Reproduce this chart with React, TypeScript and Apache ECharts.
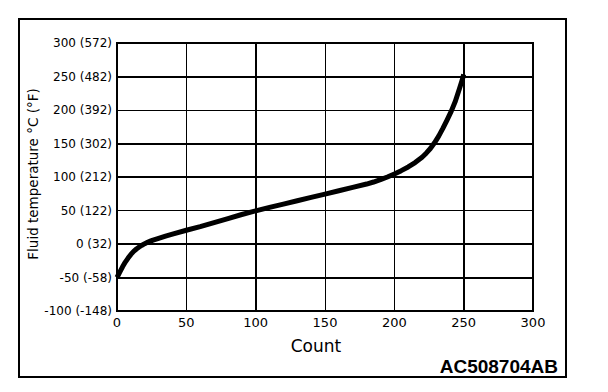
import React, { useEffect, useRef } from "react";
import * as echarts from "echarts";

const countValues = [0, 2, 4, 6, 8, 10, 12, 14, 16, 18, 20, 22, 24, 26, 30, 35, 40, 50, 60, 70, 80, 90, 100, 110, 120, 130, 140, 150, 160, 170, 180, 185, 190, 195, 200, 205, 210, 215, 220, 223, 226, 229, 232, 235, 238, 241, 244, 247, 249, 250];
const tempValues = [-50, -42, -34, -27, -21, -15.5, -11, -7.5, -4.5, -1.8, 0.5, 2.5, 4.2, 5.8, 8.5, 11.8, 14.8, 20.5, 26, 32, 38, 44, 49.5, 54.6, 59.5, 64.5, 69.5, 74.4, 79.5, 84.5, 89.5, 92.5, 96, 100, 104.5, 109.5, 115, 121.5, 129.5, 135.5, 142.5, 151, 161, 172.5, 185, 198, 213, 232, 245, 253];

const yTickValues = [-100, -50, 0, 50, 100, 150, 200, 250, 300];
const yTickLabels = ["-100 (-148)", "-50 (-58)", "0 (32)", "50 (122)", "100 (212)", "150 (302)", "200 (392)", "250 (482)", "300 (572)"];
const thickY = [250, 150, 100, 0, -50];
const thickX = [100, 250];

const FONT = "DejaVu Sans";

export default function App() {
  const ref = useRef<HTMLDivElement>(null);
  useEffect(() => {
    if (!ref.current) return;
    const chart = echarts.init(ref.current, null, { renderer: "svg" });
    const data = countValues.map((c, i) => [c, tempValues[i]]);
    chart.setOption({
      animation: false,
      backgroundColor: "#ffffff",
      grid: { left: 117, right: 75, top: 43, bottom: 81, show: true, borderColor: "#000", borderWidth: 2, containLabel: false },
      xAxis: {
        type: "value", min: 0, max: 300, interval: 50,
        axisLine: { show: true, lineStyle: { color: "#000", width: 2 } },
        axisTick: { show: false },
        splitLine: { show: true, lineStyle: { color: "#000", width: 1 } },
        axisLabel: { color: "#000", fontFamily: FONT, fontSize: 13, margin: 5 },
      },
      yAxis: {
        type: "value", min: -100, max: 300, interval: 50,
        axisLine: { show: true, lineStyle: { color: "#000", width: 2 } },
        axisTick: { show: false },
        splitLine: { show: true, lineStyle: { color: "#000", width: 1 } },
        axisLabel: {
          color: "#000", fontFamily: FONT, fontSize: 12, margin: 5,
          formatter: (v: number) => {
            const i = yTickValues.indexOf(v);
            return i >= 0 ? yTickLabels[i] : String(v);
          },
        },
      },
      series: [
        {
          type: "line",
          data,
          symbol: "none",
          smooth: false,
          lineStyle: { color: "#000", width: 5, cap: "butt", join: "round" },
          markLine: {
            silent: true,
            symbol: ["none", "none"],
            label: { show: false },
            lineStyle: { color: "#000", width: 2, type: "solid" },
            data: [...thickY.map((v) => ({ yAxis: v })), ...thickX.map((v) => ({ xAxis: v }))],
          },
        },
      ],
      graphic: [
        { type: "rect", shape: { x: 19, y: 19, width: 547, height: 358 }, style: { fill: "none", stroke: "#000", lineWidth: 2 } },
        { type: "text", x: 316, y: 346, style: { text: "Count", fontFamily: FONT, fontSize: 17, fill: "#000", textAlign: "center", textVerticalAlign: "middle" } },
        { type: "text", x: 558, y: 366, style: { text: "AC508704AB", fontFamily: "Liberation Sans", fontWeight: "bold", fontSize: 19, fill: "#000", textAlign: "right", textVerticalAlign: "middle" } },
        { type: "text", x: 33, y: 174, rotation: Math.PI / 2, style: { text: "Fluid temperature °C (°F)", fontFamily: FONT, fontSize: 13.5, fill: "#000", textAlign: "center", textVerticalAlign: "middle" } },
      ],
    });
    return () => chart.dispose();
  }, []);
  return <div ref={ref} style={{ position: "fixed", left: 0, top: 0, width: 608, height: 392 }} />;
}
